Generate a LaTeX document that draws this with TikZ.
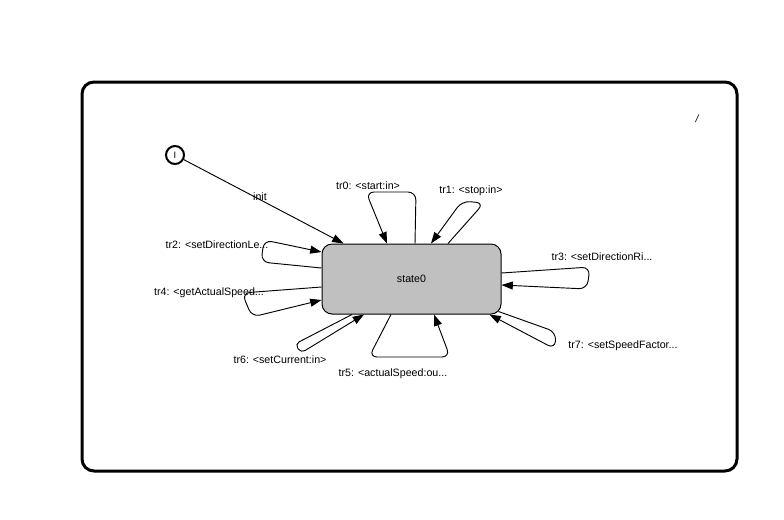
\documentclass[tikz,border=0pt]{standalone}
\usepackage{fontspec}
\setmainfont{Liberation Sans}
\usetikzlibrary{arrows.meta,calc}
\definecolor{smInk}{HTML}{000000}
\definecolor{smGray}{HTML}{C0C0C0}
\tikzset{
  frame/.style    ={draw=smInk,line width=2.25pt,rounded corners=9pt},
  statebox/.style ={draw=smInk,fill=smGray,line width=0.75pt,rounded corners=7.5pt,
                    minimum width=134.25pt,minimum height=52.5pt,inner sep=0pt,
                    font=\fontsize{8}{9.6}\selectfont},
  initdot/.style  ={circle,draw=smInk,line width=1.5pt,minimum size=13.5pt,inner sep=0pt,
                    font=\fontsize{7}{8}\selectfont},
  trans/.style    ={-{Triangle[length=8.5pt,width=6pt]},smInk,line width=0.7pt},
  loop/.style     ={trans,rounded corners=6pt},
  lbl/.style      ={font=\fontsize{8}{9.6}\selectfont,text=smInk,inner sep=0pt},
}

\begin{document}
\begin{tikzpicture}[x=0.75pt,y=-0.75pt]
\useasboundingbox (0,0) rectangle (784,519);
\draw[frame] (82,82) rectangle (737,471);
\node[lbl,font=\fontsize{8}{9.6}\selectfont\itshape] (slash) at (697,119) {/};

\node[statebox] (s) at (411.5,279) {state0};
\node[initdot] (i) at (175,155) {I};

% initial transition
\draw[trans] (i) -- ($(s.north west)+(22,0)$);

% self loops
\draw[loop] ($(s.north)+(3.5,0)$) -- (416,192) -- (366,192) -- ($(s.north)+(-24.5,0)$);
\draw[loop] ($(s.north)+(36.5,0)$) -- (484,203) -- (462,201) -- ($(s.north)+(19.5,0)$);
\draw[loop] ($(s.west)+(0,-11)$) -- (261,262) -- (264,240) -- ($(s.west)+(0,-27)$);
\draw[loop] ($(s.west)+(0,8)$) -- (242,293) -- (252,317) -- ($(s.west)+(0,21)$);
\draw[loop] ($(s.east)+(0,-6)$) -- (590,267) -- (587,289) -- ($(s.east)+(0,6)$);
\draw[loop] ($(s.south east)+(-3,-3)$) -- (556,332) -- (555,349) -- ($(s.south east)+(-12,0)$);
\draw[loop,rounded corners=3.5pt] ($(s.south)+(-59.5,0)$) -- (295,344) -- (301,353) -- ($(s.south)+(-47.5,0)$);
\draw[loop] ($(s.south)+(-20.5,0)$) -- (369,357) -- (450,357) -- ($(s.south)+(22.5,0)$);

% labels
\foreach \n/\x/\y/\t in {init/260/197/{init},
                         0/368/186/{tr0: <start:in>},
                         1/471/191/{tr1: <stop:in>},
                         2/217/245/{tr2: <setDirectionLe...},
                         4/209/293/{tr4: <getActualSpeed...},
                         3/602/257/{tr3: <setDirectionRi...},
                         7/623/346/{tr7: <setSpeedFactor...},
                         6/280/360/{tr6: <setCurrent:in>},
                         5/393/374/{tr5: <actualSpeed:ou...}}
  \node[lbl] (l\n) at (\x,\y) {\t};
\end{tikzpicture}
\end{document}
